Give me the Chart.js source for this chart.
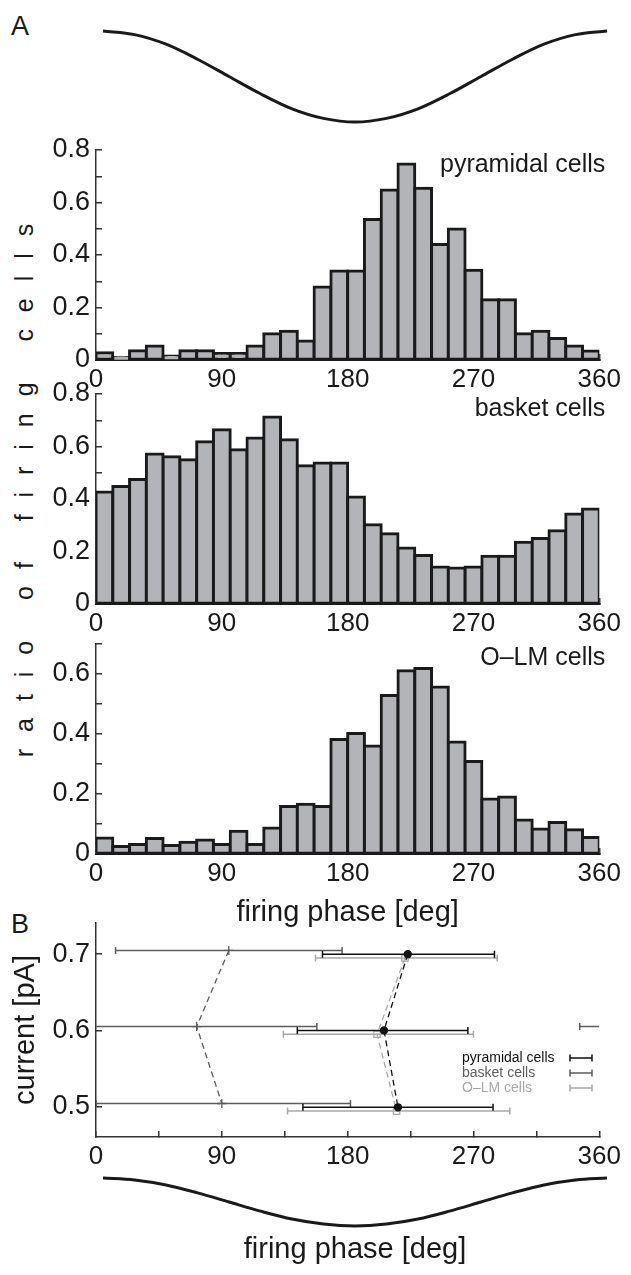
<!DOCTYPE html>
<html>
<head>
<meta charset="utf-8">
<script src="https://cdn.jsdelivr.net/npm/chart.js@4.4.0/dist/chart.umd.min.js"></script>
<style>
  html, body { margin: 0; padding: 0; background: #fff; }
  #fig { position: relative; width: 631px; height: 1275px; font-family: "Liberation Sans", Arial, sans-serif; color: #1a1a1a; }
  #fig canvas { position: absolute; left: 0; top: 0; }
  .panel { position: absolute; font-size: 27px; line-height: 1; }
  .ytitle { position: absolute; font-size: 25px; line-height: 1; white-space: pre; letter-spacing: 5px;
            transform: translate(-50%, -50%) rotate(-90deg); }
</style>
</head>
<body>
<div id="fig">
  <div class="panel" style="left:11px; top:13px">A</div>
  <div class="panel" style="left:11px; top:911px">B</div>
  <div class="ytitle" style="left:24px; top:488px">r a t i o   o f   f i r i n g   c e l l s</div>
  <canvas id="waveTop" width="631" height="1275"></canvas>
  <canvas id="histPyr" width="631" height="1275"></canvas>
  <canvas id="histBasket" width="631" height="1275"></canvas>
  <canvas id="histOlm" width="631" height="1275"></canvas>
  <canvas id="panelB" width="631" height="1275"></canvas>
  <canvas id="waveBottom" width="631" height="1275"></canvas>
</div>
<script>
const FONT = '"Liberation Sans", Arial, sans-serif';
const INK = '#1a1a1a';

const phaseTicks = [0, 90, 180, 270, 360];
const phaseMinorTicks = [0, 45, 90, 135, 180, 225, 270, 315, 360];

// theta reference wave, every 22.5 deg
const wavePhase = [0, 22.5, 45, 67.5, 90, 112.5, 135, 157.5, 180, 202.5, 225, 247.5, 270, 292.5, 315, 337.5, 360];
const waveLevel = [1, 0.92, 0.71, 0.38, 0, -0.38, -0.71, -0.92, -1, -0.92, -0.71, -0.38, 0, 0.38, 0.71, 0.92, 1];

// A: histograms, 30 bins of 12 deg
const binCenters = [6, 18, 30, 42, 54, 66, 78, 90, 102, 114, 126, 138, 150, 162, 174,
                    186, 198, 210, 222, 234, 246, 258, 270, 282, 294, 306, 318, 330, 342, 354];
const pyramidalRatio = [0.028, 0.010, 0.035, 0.053, 0.015, 0.035, 0.035, 0.025, 0.025, 0.053,
                        0.100, 0.110, 0.072, 0.278, 0.339, 0.339, 0.535, 0.648, 0.747, 0.654,
                        0.440, 0.499, 0.342, 0.230, 0.230, 0.100, 0.110, 0.082, 0.053, 0.034];
const basketRatio = [0.427, 0.448, 0.474, 0.571, 0.561, 0.550, 0.618, 0.664, 0.588, 0.632,
                     0.712, 0.626, 0.527, 0.537, 0.537, 0.408, 0.302, 0.268, 0.213, 0.185,
                     0.141, 0.137, 0.141, 0.182, 0.182, 0.235, 0.250, 0.279, 0.343, 0.362];
const olmRatio = [0.053, 0.025, 0.032, 0.052, 0.028, 0.039, 0.047, 0.032, 0.076, 0.032,
                  0.087, 0.158, 0.166, 0.158, 0.382, 0.402, 0.360, 0.528, 0.611, 0.618,
                  0.557, 0.373, 0.308, 0.183, 0.190, 0.113, 0.083, 0.105, 0.081, 0.055];
const ratioTicks08 = [0, 0.1, 0.2, 0.3, 0.4, 0.5, 0.6, 0.7, 0.8];
const ratioTicks07 = [0, 0.1, 0.2, 0.3, 0.4, 0.5, 0.6, 0.7];

// B: mean phase +- spread per injected current
const currentTicks = [0.5, 0.6, 0.7];
const seriesNames = ['pyramidal cells', 'basket cells', 'O\u2013LM cells'];
const pyrCurrent = [0.700, 0.600, 0.499];
const pyrPhase = [223, 206, 216];
const pyrLow = [162, 144, 148];
const pyrHigh = [285, 266, 284];
const basketCurrent = [0.705, 0.605, 0.504];
const basketPhase = [95, 72, 90];
const basketLow = [14, -14, 0];
const basketHigh = [176, 158, 182];
const olmCurrent = [0.695, 0.595, 0.494];
const olmPhase = [221, 201, 215];
const olmLow = [157, 134, 137];
const olmHigh = [287, 270, 296];

const seriesColors = ['#111111', '#5c5c5c', '#a8a8a8'];

const panelTitle = {
  id: 'panelTitle',
  afterDraw(chart, args, opts) {
    if (!opts.text) return;
    const {ctx, chartArea} = chart;
    ctx.save();
    ctx.font = '25px ' + FONT;
    ctx.fillStyle = INK;
    ctx.textAlign = 'right';
    ctx.textBaseline = 'middle';
    ctx.fillText(opts.text, chartArea.right + 6, chartArea.top + opts.dy);
    ctx.restore();
  }
};

const legendBox = {
  id: 'legendBox',
  afterDraw(chart, args, opts) {
    const {ctx, chartArea} = chart;
    ctx.save();
    ctx.font = '14px ' + FONT;
    ctx.textBaseline = 'middle';
    ctx.lineWidth = 1.5;
    seriesNames.forEach((name, i) => {
      const x = chartArea.left + opts.left;
      const y = chartArea.top + opts.top + i * opts.step;
      ctx.fillStyle = seriesColors[i];
      ctx.strokeStyle = seriesColors[i];
      ctx.fillText(name, x, y);
      const x0 = x + opts.glyph, x1 = x0 + 22;
      ctx.beginPath();
      ctx.moveTo(x0, y); ctx.lineTo(x1, y);
      ctx.moveTo(x0, y - 3.5); ctx.lineTo(x0, y + 3.5);
      ctx.moveTo(x1, y - 3.5); ctx.lineTo(x1, y + 3.5);
      ctx.stroke();
    });
    ctx.restore();
  }
};

function waveChart(id, top, bottom, withTitle) {
  const xH = withTitle ? 45 : 0;
  return new Chart(document.getElementById(id), {
    type: 'line',
    data: {
      datasets: [{
        data: wavePhase.map((p, i) => ({x: p, y: waveLevel[i]})),
        borderColor: INK, borderWidth: 3, pointRadius: 0,
        cubicInterpolationMode: 'monotone', clip: false
      }]
    },
    options: {
      responsive: false, animation: false,
      layout: {padding: {left: 103, right: 24, top: top, bottom: 1275 - bottom - xH}},
      plugins: {legend: {display: false}, tooltip: {enabled: false}},
      scales: {
        x: {
          type: 'linear', min: 0, max: 360, display: withTitle,
          ticks: {display: false}, grid: {display: false}, border: {display: false},
          afterFit: s => { s.height = xH; },
          title: {display: withTitle, text: 'firing phase [deg]', color: INK,
                  font: {size: 29, family: FONT}, padding: {top: 0, bottom: 4}}
        },
        y: {min: -1, max: 1, display: false}
      }
    }
  });
}

function histChart(id, values, yMax, yTicks, title, dy, top, bottom, withTitle) {
  const xH = withTitle ? 80 : 40;
  return new Chart(document.getElementById(id), {
    type: 'bar',
    data: {
      datasets: [{
        data: binCenters.map((c, i) => ({x: c, y: values[i]})),
        backgroundColor: '#b2b4b7', borderColor: INK, borderWidth: 3,
        inflateAmount: 1.5, borderSkipped: false,
        barPercentage: 1, categoryPercentage: 1
      }]
    },
    options: {
      responsive: false, animation: false,
      layout: {padding: {left: 0, right: 24, top: top, bottom: 1275 - bottom - xH}},
      plugins: {legend: {display: false}, tooltip: {enabled: false}, panelTitle: {text: title, dy: dy}},
      scales: {
        x: {
          type: 'linear', min: 0, max: 360, offset: false, z: 1,
          afterBuildTicks: s => { s.ticks = phaseTicks.map(v => ({value: v})); },
          afterFit: s => { s.height = xH; },
          ticks: {font: {size: 26, family: FONT}, color: INK, padding: 10, maxRotation: 0, autoSkip: false},
          grid: {offset: false, drawOnChartArea: false, tickLength: -6, color: '#444', lineWidth: 1.5},
          border: {display: true, color: INK, width: 2},
          title: {display: withTitle, text: 'firing phase [deg]', color: INK,
                  font: {size: 29, family: FONT}, padding: {top: 0, bottom: 4}}
        },
        y: {
          type: 'linear', min: 0, max: yMax,
          afterBuildTicks: s => { s.ticks = yTicks.map(v => ({value: v})); },
          afterFit: s => { s.width = 96; },
          ticks: {
            font: {size: 27, family: FONT}, color: INK, padding: 12, autoSkip: false,
            callback: v => (Math.round(v * 10) % 2 === 0 ? (v === 0 ? '0' : v.toFixed(1)) : '')
          },
          grid: {drawOnChartArea: false, tickLength: -6, color: '#333', lineWidth: 1.5},
          border: {display: true, color: '#333', width: 1.5}
        }
      }
    },
    plugins: [panelTitle]
  });
}

waveChart('waveTop', 31, 122, false);
histChart('histPyr', pyramidalRatio, 0.8, ratioTicks08, 'pyramidal cells', 15, 150, 360, false);
histChart('histBasket', basketRatio, 0.8, ratioTicks08, 'basket cells', 15, 394, 604, false);
histChart('histOlm', olmRatio, 0.7, ratioTicks07, 'O\u2013LM cells', 14, 644, 854, true);

// panel B datasets: one short line per error bar, plus a dashed line through the means
const groups = [
  {current: pyrCurrent, phase: pyrPhase, low: pyrLow, high: pyrHigh, marker: 'circle', filled: true},
  {current: basketCurrent, phase: basketPhase, low: basketLow, high: basketHigh, marker: 'cross', filled: false},
  {current: olmCurrent, phase: olmPhase, low: olmLow, high: olmHigh, marker: 'rect', filled: false}
];
const bDatasets = [];
groups.forEach((g, k) => {
  const color = seriesColors[k];
  bDatasets.push({
    label: seriesNames[k],
    data: g.phase.map((p, i) => ({x: p, y: g.current[i]})),
    borderColor: color, borderWidth: 1.3, borderDash: [6, 4],
    pointStyle: g.marker, pointRadius: g.marker === 'circle' ? 3.5 : 4.5,
    pointBorderColor: color, pointBorderWidth: 1.3,
    pointBackgroundColor: g.filled ? color : 'rgba(0,0,0,0)', tension: 0
  });
  g.current.forEach((c, i) => {
    // a spread that runs below 0 deg wraps round to the end of the cycle
    const parts = g.low[i] >= 0
      ? [[g.low[i], g.high[i], 3.5, 3.5]]
      : [[0, g.high[i], 0, 3.5], [360 + g.low[i], 360, 3.5, 0]];
    parts.forEach(([a, b, ra, rb]) => {
      bDatasets.push({
        data: [{x: a, y: c}, {x: b, y: c}],
        borderColor: color, borderWidth: 1.5,
        pointStyle: 'line', pointRotation: 90, pointRadius: [ra, rb],
        pointBorderColor: color, pointBorderWidth: 1.5, tension: 0
      });
    });
  });
});

new Chart(document.getElementById('panelB'), {
  type: 'line',
  data: {datasets: bDatasets},
  options: {
    responsive: false, animation: false,
    layout: {padding: {left: 0, right: 24, top: 923, bottom: 1275 - 1137 - 40}},
    plugins: {
      legend: {display: false}, tooltip: {enabled: false},
      legendBox: {left: 366, top: 135, step: 15, glyph: 108}
    },
    scales: {
      x: {
        type: 'linear', min: 0, max: 360,
        afterBuildTicks: s => { s.ticks = phaseMinorTicks.map(v => ({value: v})); },
        afterFit: s => { s.height = 40; },
        ticks: {font: {size: 26, family: FONT}, color: INK, padding: 10, maxRotation: 0, autoSkip: false,
                callback: v => (v % 90 === 0 ? String(v) : '')},
        grid: {drawOnChartArea: false, tickLength: -6, color: '#333', lineWidth: 1.5},
        border: {display: true, color: '#333', width: 1.5}
      },
      y: {
        type: 'linear', min: 0.46, max: 0.741,
        afterBuildTicks: s => { s.ticks = currentTicks.map(v => ({value: v})); },
        afterFit: s => { s.width = 96; },
        ticks: {font: {size: 27, family: FONT}, color: INK, padding: 12, autoSkip: false,
                callback: v => v.toFixed(1)},
        grid: {drawOnChartArea: false, tickLength: -6, color: '#333', lineWidth: 1.5},
        border: {display: true, color: '#333', width: 1.5},
        title: {display: true, text: 'current [pA]', color: INK,
                font: {size: 29, family: FONT}, padding: {top: 9, bottom: 0}}
      }
    }
  },
  plugins: [legendBox]
});

waveChart('waveBottom', 1178, 1226, true);
</script>
</body>
</html>
